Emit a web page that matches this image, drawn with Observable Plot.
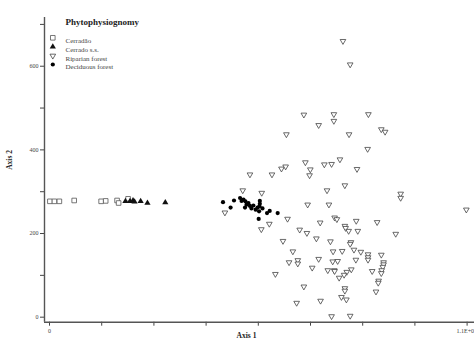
<!DOCTYPE html>
<html>
<head>
<meta charset="utf-8">
<script src="https://cdn.jsdelivr.net/npm/d3@7"></script>
<script src="https://cdn.jsdelivr.net/npm/@observablehq/plot@0.6"></script>
<style>
  html, body { margin: 0; padding: 0; background: #fff; }
  #chart { width: 474px; height: 340px; overflow: hidden; }
</style>
</head>
<body>
<div id="chart"></div>
<script>
// Legend categories
const categories = ["Cerradão", "Cerrado s.s.", "Riparian forest", "Deciduous forest"];
const legendTitle = "Phytophysiognomy";
const xAxisTitle = "Axis 1";
const yAxisTitle = "Axis 2";

// Axis ticks
const xTicks = [0, 0.1375, 0.275, 0.4125, 0.55, 0.6875, 0.825, 0.9625, 1.1];
const xTickLabels = ["0", "", "", "", "", "", "", "", "1.1E+0"];
const yTicks = [0, 100, 200, 300, 400, 500, 600, 700];
const yTickLabels = ["0", "", "200", "", "400", "", "600", ""];

// Series values [Axis 1, Axis 2]
const cerradao = [
  [0.001, 277], [0.013, 277], [0.026, 277], [0.065, 279], [0.136, 277],
  [0.148, 278], [0.178, 279], [0.182, 273], [0.207, 283]
];
const cerradoSS = [
  [0.200, 277], [0.212, 277], [0.220, 279], [0.224, 276], [0.240, 277],
  [0.258, 273], [0.305, 274]
];
const deciduous = [
  [0.457, 275], [0.477, 262], [0.486, 279], [0.502, 285], [0.506, 278],
  [0.511, 281], [0.516, 277], [0.519, 269], [0.515, 262], [0.524, 273],
  [0.528, 266], [0.532, 260], [0.537, 267], [0.543, 257], [0.548, 262],
  [0.552, 253], [0.554, 278], [0.554, 271], [0.553, 265], [0.551, 235],
  [0.573, 249], [0.580, 254], [0.601, 249], [0.561, 260]
];
const riparian = [
  [0.773, 660], [0.792, 604], [0.670, 484], [0.749, 485], [0.840, 485],
  [0.709, 459], [0.749, 469], [0.624, 437], [0.789, 437], [0.874, 449],
  [0.884, 443], [0.838, 402], [0.765, 377], [0.674, 370], [0.611, 355],
  [0.622, 360], [0.724, 365], [0.743, 366], [0.810, 354], [0.687, 353],
  [0.685, 339], [0.778, 315], [0.731, 303], [0.680, 269], [0.736, 269],
  [0.925, 295], [0.925, 285], [1.098, 257], [0.751, 238], [0.757, 234],
  [0.713, 226], [0.808, 230], [0.863, 227], [0.778, 218], [0.780, 213],
  [0.788, 206], [0.812, 206], [0.912, 199], [0.678, 201], [0.703, 188],
  [0.740, 181], [0.794, 179], [0.792, 175], [0.747, 157], [0.771, 158],
  [0.802, 161], [0.820, 156], [0.839, 150], [0.839, 143], [0.839, 137],
  [0.874, 149], [0.709, 139], [0.746, 133], [0.759, 134], [0.807, 137],
  [0.880, 131], [0.880, 126], [0.878, 120], [0.692, 118], [0.733, 112],
  [0.750, 112], [0.751, 110], [0.795, 114], [0.850, 110], [0.783, 108],
  [0.875, 112], [0.874, 105], [0.776, 101], [0.763, 94], [0.867, 87],
  [0.866, 82], [0.670, 73], [0.778, 69], [0.778, 63], [0.860, 61],
  [0.769, 48], [0.782, 42], [0.714, 39], [0.743, 2], [0.792, 3],
  [0.509, 303], [0.559, 297], [0.462, 250], [0.627, 235], [0.579, 223],
  [0.558, 210], [0.659, 209], [0.615, 182], [0.641, 157], [0.654, 136],
  [0.654, 128], [0.631, 131], [0.595, 103], [0.651, 34], [0.586, 341],
  [0.528, 341]
];

const xDomain = [-0.0132, 1.1195];
const yDomain = [-12, 716.5];

const styles = [
  {symbol: "square", fill: "white", stroke: "#555", r: 2.6, rotate: 0},
  {symbol: "triangle", fill: "#111", stroke: "none", r: 2.3, rotate: 0},
  {symbol: "triangle", fill: "white", stroke: "#444", r: 2.1, rotate: 180},
  {symbol: "circle", fill: "#000", stroke: "none", r: 2.1, rotate: 0}
];
const seriesData = [cerradao, cerradoSS, riparian, deciduous];

const marks = [];
// axis lines
marks.push(Plot.ruleX([xDomain[0]], {stroke: "#555", strokeWidth: 1.4}));
marks.push(Plot.ruleY([yDomain[0]], {stroke: "#555", strokeWidth: 1.4}));

// series
[2, 0, 1, 3].forEach(i => {
  const s = styles[i];
  marks.push(Plot.dot(seriesData[i], {
    x: d => d[0], y: d => d[1],
    symbol: s.symbol, fill: s.fill, stroke: s.stroke, r: s.r,
    rotate: s.rotate, strokeWidth: 0.8
  }));
});

// last x tick label, right-aligned so it stays inside the picture
const lastIdx = xTicks.length - 1;
marks.push(Plot.text([xTicks[lastIdx]], {
  x: d => d, frameAnchor: "bottom", text: () => xTickLabels[lastIdx],
  textAnchor: "end", dx: 7, dy: 10.5, fontSize: 6, fill: "#444"
}));

// legend
marks.push(Plot.text([legendTitle], {
  frameAnchor: "top-left", dx: 21, dy: 1, text: d => d,
  textAnchor: "start", fontWeight: "bold", fontSize: 9, fill: "#222"
}));
categories.forEach((c, i) => {
  const s = styles[i];
  const dy = [20.3, 29.3, 38.3, 47][i];
  marks.push(Plot.dot([c], {
    frameAnchor: "top-left", dx: 8.3, dy,
    symbol: s.symbol, fill: s.fill, stroke: s.stroke, r: s.r,
    rotate: s.rotate, strokeWidth: 0.8
  }));
  marks.push(Plot.text([c], {
    frameAnchor: "top-left", dx: 21, dy, text: d => d,
    textAnchor: "start", fontSize: 7, fill: "#444"
  }));
});

// axis titles
marks.push(Plot.text([xAxisTitle], {
  frameAnchor: "bottom", dx: -13, dy: 16, text: d => d,
  fontWeight: "bold", fontSize: 7.5, fill: "#222"
}));
marks.push(Plot.text([yAxisTitle], {
  frameAnchor: "left", dx: -35, dy: 0, text: d => d, rotate: -90,
  fontWeight: "bold", fontSize: 7.5, fill: "#222"
}));

const chart = Plot.plot({
  width: 474,
  height: 340,
  marginLeft: 44,
  marginRight: 0,
  marginTop: 17,
  marginBottom: 18.3,
  style: {fontFamily: "'Liberation Serif', serif", fontSize: "6px", color: "#444", background: "white"},
  x: {
    type: "linear",
    domain: xDomain,
    ticks: xTicks,
    tickFormat: d => {
      const i = xTicks.findIndex(t => Math.abs(t - d) < 1e-9);
      return i === 0 ? xTickLabels[0] : "";
    },
    tickSize: 4,
    tickPadding: 3,
    label: null
  },
  y: {
    type: "linear",
    domain: yDomain,
    ticks: yTicks,
    tickFormat: d => yTickLabels[yTicks.indexOf(d)] ?? "",
    tickSize: 4,
    tickPadding: 2,
    label: null
  },
  marks
});
document.getElementById("chart").appendChild(chart);
</script>
</body>
</html>
